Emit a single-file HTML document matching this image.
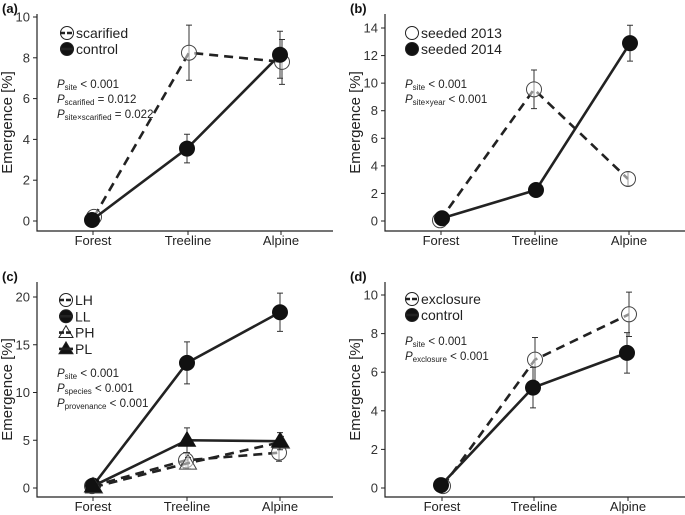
<!DOCTYPE html>
<html><head><meta charset="utf-8"><style>
body{margin:0;background:#fff}
svg{display:block;font-family:"Liberation Sans",Arial,sans-serif}
</style></head><body>
<svg id="fig" width="685" height="515" viewBox="0 0 685 515"></svg>
<script>
const sites = ["Forest","Treeline","Alpine"];
// panel a
const aScar = [0.2, 8.25, 7.8];
const aScarErr = [0, 1.35, 1.1];
const aCtrl = [0.05, 3.55, 8.15];
const aCtrlErr = [0, 0.7, 1.15];
const aTicks = [0,2,4,6,8,10];
// panel b
const b2013 = [0.05, 9.55, 3.05];
const b2013Err = [0, 1.4, 0.5];
const b2014 = [0.2, 2.25, 12.9];
const b2014Err = [0, 0.4, 1.3];
const bTicks = [0,2,4,6,8,10,12,14];
// panel c
const cLH = [0.2, 2.9, 3.7];
const cLHErr = [0, 0.8, 0.9];
const cLL = [0.25, 13.1, 18.4];
const cLLErr = [0, 2.2, 2.0];
const cPH = [0.1, 2.6, 4.8];
const cPHErr = [0, 0.6, 0.6];
const cPL = [0.2, 5.0, 4.9];
const cPLErr = [0, 1.3, 0.9];
const cTicks = [0,5,10,15,20];
// panel d
const dExcl = [0.1, 6.65, 9.0];
const dExclErr = [0, 1.15, 1.15];
const dCtrl = [0.15, 5.2, 7.0];
const dCtrlErr = [0, 1.05, 1.05];
const dTicks = [0,2,4,6,8,10];

const NS="http://www.w3.org/2000/svg";
const svg=document.getElementById('fig');
function mk(tag,attrs,parent){const e=document.createElementNS(NS,tag);for(const k in attrs)e.setAttribute(k,attrs[k]);(parent||svg).appendChild(e);return e;}

function marker(g,shape,filled,x,y){
  let m;
  if(shape==='circle'){m=mk('circle',{cx:x,cy:y,r:7.5,fill:filled?'#111':'#fff','fill-opacity':filled?1:0.5,stroke:filled?'#111':'#444','stroke-width':1},g);}
  else{const r=8.5;m=mk('polygon',{points:`${x},${y-r} ${x-r},${y+r*0.7} ${x+r},${y+r*0.7}`,fill:filled?'#111':'#fff','fill-opacity':filled?1:0.5,stroke:filled?'#111':'#444','stroke-width':1},g);}
  return m;
}

function panel(p){
  const g=mk('g',{});
  
  
  const y=v=>p.y0+(v-0)*(p.yTop-p.y0)/p.vTop;
  const x=i=>p.xs[i];
  const ax=mk('path',{d:`M${p.ax},${p.axTop} V${p.axB} H${p.axR}`,fill:'none',stroke:'#222','stroke-width':1.2},g);
  
  p.ticks.forEach(t=>{
    mk('line',{x1:p.ax-4,x2:p.ax,y1:y(t),y2:y(t),stroke:'#222','stroke-width':1},g);
    const tx=mk('text',{x:p.ax-7,y:y(t)+4.5,'text-anchor':'end','font-size':13,fill:'#333'},g);
    tx.textContent=t;
  });
  sites.forEach((s,i)=>{
    mk('line',{x1:x(i),x2:x(i),y1:p.axB,y2:p.axB+4,stroke:'#222','stroke-width':1},g);
    const tx=mk('text',{x:x(i),y:p.axB+14,'text-anchor':'middle','font-size':13,fill:'#222'},g);
    tx.textContent=s;
  });
  const yl=mk('text',{x:0,y:0,transform:`translate(${p.ax-25},${(p.axTop+p.axB)/2}) rotate(-90)`,'text-anchor':'middle','font-size':15,fill:'#222'},g);
  yl.textContent='Emergence [%]';
  const pl=mk('text',{x:p.ax-35,y:p.axTop-1,'font-size':13,'font-weight':'bold',fill:'#111'},g);
  pl.textContent=p.label;
  p.series.forEach(s=>{
    const pts=s.vals.map((v,i)=>[x(i)+(s.dx||0),y(v)]);
    const ln=mk('polyline',{points:pts.map(q=>q.join(',')).join(' '),fill:'none',stroke:'#222','stroke-width':2.6,'stroke-dasharray':s.dash?'9,6':'none'},g);
    
    s.vals.forEach((v,i)=>{
      const e=s.err[i];if(e>0){
        const xx=pts[i][0];
        const eb=mk('path',{d:`M${xx-3},${y(v+e)}H${xx+3}M${xx},${y(v+e)}V${y(v-e)}M${xx-3},${y(v-e)}H${xx+3}`,stroke:'#333','stroke-width':1,fill:'none'},g);
        
      }
    });
    s.vals.forEach((v,i)=>{
      const m=marker(g,s.shape,s.filled,pts[i][0],pts[i][1]);
      
      
    });
  });
  p.series.forEach((s,k)=>{
    const ly=p.legY+k*p.legStep;
    const lg=mk('g',{},g);
    
    if(s.shape==='circle')mk('circle',{cx:p.legX,cy:ly,r:6.5,fill:s.filled?'#111':'#fff',stroke:'#222','stroke-width':1},lg);
    else{const r=7;mk('polygon',{points:`${p.legX},${ly-r} ${p.legX-r},${ly+r*0.7} ${p.legX+r},${ly+r*0.7}`,fill:s.filled?'#111':'#fff',stroke:'#222','stroke-width':1},lg);}
    if(p.legLine)mk('line',{x1:p.legX-7,x2:p.legX+7,y1:ly,y2:ly,stroke:'#222','stroke-width':2.6,'stroke-dasharray':s.dash?'5,2':'none'},lg);
    const t=mk('text',{x:p.legX+9,y:ly+5,'font-size':14,fill:'#222'},lg);t.textContent=s.name;
  });
  p.stats.forEach((st,k)=>{
    const t=mk('text',{x:p.ax+20,y:p.statY+k*15,'font-size':11.5,fill:'#222'},g);
    
    const a=mk('tspan',{'font-style':'italic'},t);a.textContent='P';
    const b=mk('tspan',{'font-size':8,dy:2},t);b.textContent=st[0];
    const c=mk('tspan',{dy:-2},t);c.textContent=' '+st[1];
  });
}

panel({id:'a',label:'(a)',ax:37,axTop:14,axB:231,axR:333,y0:221,yTop:17,vTop:10,xs:[93,188,281],ticks:aTicks,
  legX:67,legY:33,legStep:16,legLine:true,statY:88,
  stats:[['site','< 0.001'],['scarified','= 0.012'],['site×scarified','= 0.022']],
  series:[{key:'scarified',name:'scarified',vals:aScar,err:aScarErr,dash:true,shape:'circle',filled:false,dx:1},
          {key:'control',name:'control',vals:aCtrl,err:aCtrlErr,dash:false,shape:'circle',filled:true,dx:-1}]});
panel({id:'b',label:'(b)',ax:385,axTop:14,axB:231,axR:685,y0:221,yTop:28,vTop:14,xs:[441,535,629],ticks:bTicks,
  legX:412,legY:33,legStep:16,legLine:false,statY:88,
  stats:[['site','< 0.001'],['site×year','< 0.001']],
  series:[{key:'seeded-2013',name:'seeded 2013',vals:b2013,err:b2013Err,dash:true,shape:'circle',filled:false,dx:-1},
          {key:'seeded-2014',name:'seeded 2014',vals:b2014,err:b2014Err,dash:false,shape:'circle',filled:true,dx:1}]});
panel({id:'c',label:'(c)',ax:37,axTop:282,axB:497,axR:333,y0:488,yTop:297,vTop:20,xs:[93,187,280],ticks:cTicks,
  legX:66,legY:300,legStep:16.3,legLine:true,statY:377,
  stats:[['site','< 0.001'],['species','< 0.001'],['provenance','< 0.001']],
  series:[{key:'LH',name:'LH',vals:cLH,err:cLHErr,dash:true,shape:'circle',filled:false,dx:-1},
          {key:'LL',name:'LL',vals:cLL,err:cLLErr,dash:false,shape:'circle',filled:true,dx:0},
          {key:'PH',name:'PH',vals:cPH,err:cPHErr,dash:true,shape:'triangle',filled:false,dx:1},
          {key:'PL',name:'PL',vals:cPL,err:cPLErr,dash:false,shape:'triangle',filled:true,dx:0}]});
panel({id:'d',label:'(d)',ax:385,axTop:282,axB:497,axR:685,y0:488,yTop:295,vTop:10,xs:[442,534,628],ticks:dTicks,
  legX:412,legY:299,legStep:16,legLine:true,statY:345,
  stats:[['site','< 0.001'],['exclosure','< 0.001']],
  series:[{key:'exclosure',name:'exclosure',vals:dExcl,err:dExclErr,dash:true,shape:'circle',filled:false,dx:1},
          {key:'control',name:'control',vals:dCtrl,err:dCtrlErr,dash:false,shape:'circle',filled:true,dx:-1}]});
</script>
</body></html>
